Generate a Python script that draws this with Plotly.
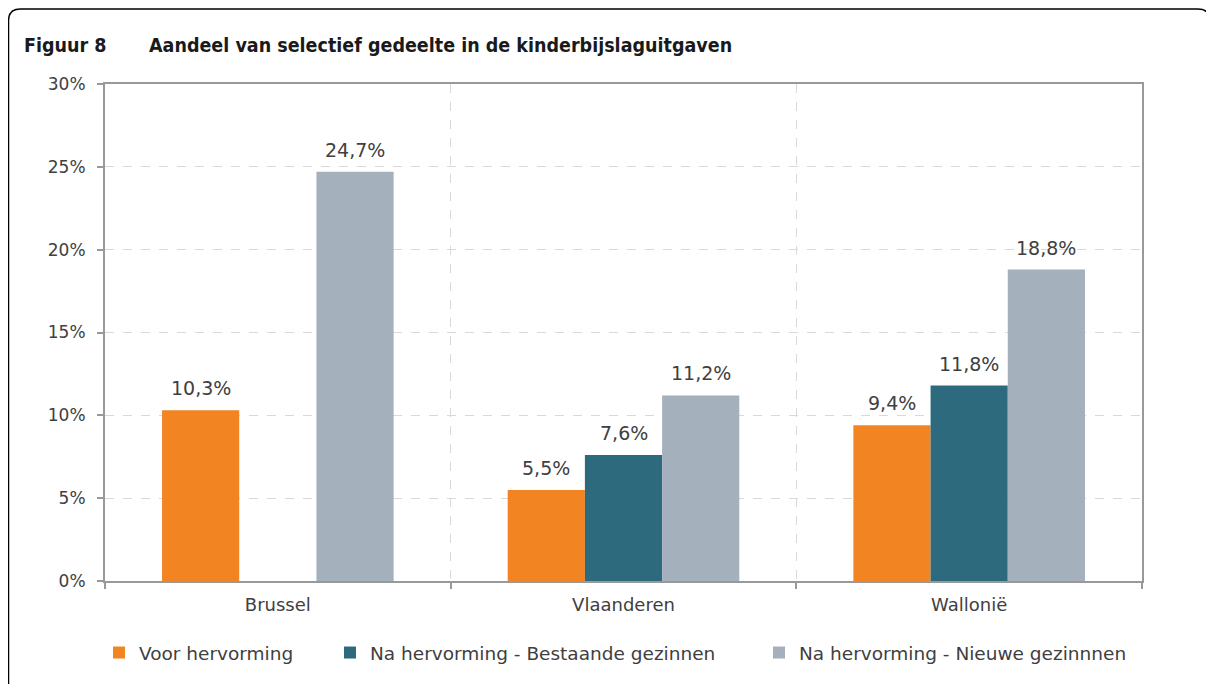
import plotly.graph_objects as go

categories = ["Brussel", "Vlaanderen", "Wallonië"]
series_names = ["Voor hervorming", "Na hervorming - Bestaande gezinnen", "Na hervorming - Nieuwe gezinnnen"]
voor = [10.3, 5.5, 9.4]
bestaande = [None, 7.6, 11.8]
nieuwe = [24.7, 11.2, 18.8]
y_ticks = [0, 5, 10, 15, 20, 25, 30]
y_ticklabels = [f"{v}%" for v in y_ticks]

colors = ["#F28522", "#2E6A7E", "#A5B0BD"]
FONT = "DejaVu Sans, sans-serif"
FONT_B = "DejaVu Sans Condensed, DejaVu Sans, sans-serif"
TXT = "#404040"

# page body has an 8px margin; figure coordinates are window coordinates minus 8
OFF = 8
W, H = 1206, 676
L, T = 105 - OFF, 84 - OFF
PW, PH = 1037, 497
R, B = W - L - PW, H - T - PH

def px(x):  # window pixel -> paper x
    return (x - OFF - L) / PW

def py(y):  # window pixel -> paper y
    return (T + PH - (y - OFF)) / PH

BARGAP = 0.33
all_series = [voor, bestaande, nieuwe]
n = len(all_series)
bar_px = PW / len(categories) * (1 - BARGAP) / n

fig = go.Figure()
annotations = []
for i, (name, vals) in enumerate(zip(series_names, all_series)):
    fig.add_trace(go.Bar(
        x=categories, y=vals, name=name,
        marker=dict(color=colors[i], line=dict(width=0)),
        legend="legend" if i == 0 else f"legend{i+1}",
        hovertemplate="%{x}: %{y:.1f}%<extra>" + name + "</extra>",
    ))
    for c, v in zip(categories, vals):
        if v is None:
            continue
        annotations.append(dict(
            x=c, y=v, xref="x", yref="y",
            xshift=(i - (n - 1) / 2) * bar_px, yshift=9,
            text=f"{v:.1f}%".replace(".", ","), showarrow=False,
            xanchor="center", yanchor="bottom",
            font=dict(family=FONT, size=19, color=TXT),
        ))

annotations += [
    dict(text="<b>Figuur 8</b>", x=px(22), y=py(45), xref="paper", yref="paper",
         xanchor="left", yanchor="middle", showarrow=False,
         font=dict(family=FONT_B, size=19.5, color="#1a1a1a")),
    dict(text="<b>Aandeel van selectief gedeelte in de kinderbijslaguitgaven</b>",
         x=px(147), y=py(45), xref="paper", yref="paper",
         xanchor="left", yanchor="middle", showarrow=False,
         font=dict(family=FONT_B, size=19.5, color="#1a1a1a")),
]

leg_common = dict(orientation="h", yanchor="middle", y=py(653), xanchor="left",
                  font=dict(family=FONT, size=18.5, color=TXT), bgcolor="rgba(0,0,0,0)",
                  itemwidth=30)

# rounded frame (window px)
fx0, fx1, fy0, fy1, rr = 8.5, 1210, 9, 720, 12
x0, x1, y0, y1 = px(fx0), px(fx1), py(fy0), py(fy1)
rx, ry = rr / PW, rr / PH
path = (f"M {x0},{y1} L {x0},{y0 - ry} Q {x0},{y0} {x0 + rx},{y0} "
        f"L {x1 - rx},{y0} Q {x1},{y0} {x1},{y0 - ry} L {x1},{y1}")

fig.update_layout(
    width=W, height=H,
    margin=dict(l=L, r=R, t=T, b=B, pad=0),
    paper_bgcolor="white", plot_bgcolor="white",
    separators=",.",
    barmode="group", bargap=BARGAP, bargroupgap=0,
    font=dict(family=FONT, size=17, color=TXT),
    showlegend=True,
    legend=dict(**leg_common, x=px(99)),
    legend2=dict(**leg_common, x=px(330)),
    legend3=dict(**leg_common, x=px(759)),
    xaxis=dict(
        tickson="boundaries", ticks="outside", ticklen=6, tickcolor="#999999", tickwidth=2,
        showgrid=True, gridcolor="#D9D9D9", griddash="dash", gridwidth=1,
        showline=True, linecolor="#999999", linewidth=2, mirror=True,
        tickfont=dict(family=FONT, size=18, color=TXT), ticklabelstandoff=6,
    ),
    yaxis=dict(
        range=[0, 30], tickvals=y_ticks, ticktext=y_ticklabels,
        ticks="outside", ticklen=6, tickcolor="#999999", tickwidth=2,
        showgrid=True, gridcolor="#D9D9D9", griddash="dash", gridwidth=1,
        showline=True, linecolor="#999999", linewidth=2, mirror=True,
        tickfont=dict(family=FONT, size=17, color=TXT), zeroline=False,
        ticklabelstandoff=8,
    ),
    shapes=[dict(type="path", path=path, xref="paper", yref="paper",
                 line=dict(color="#000000", width=1.5), layer="above")],
    annotations=annotations,
)

fig.write_html("out.html")
